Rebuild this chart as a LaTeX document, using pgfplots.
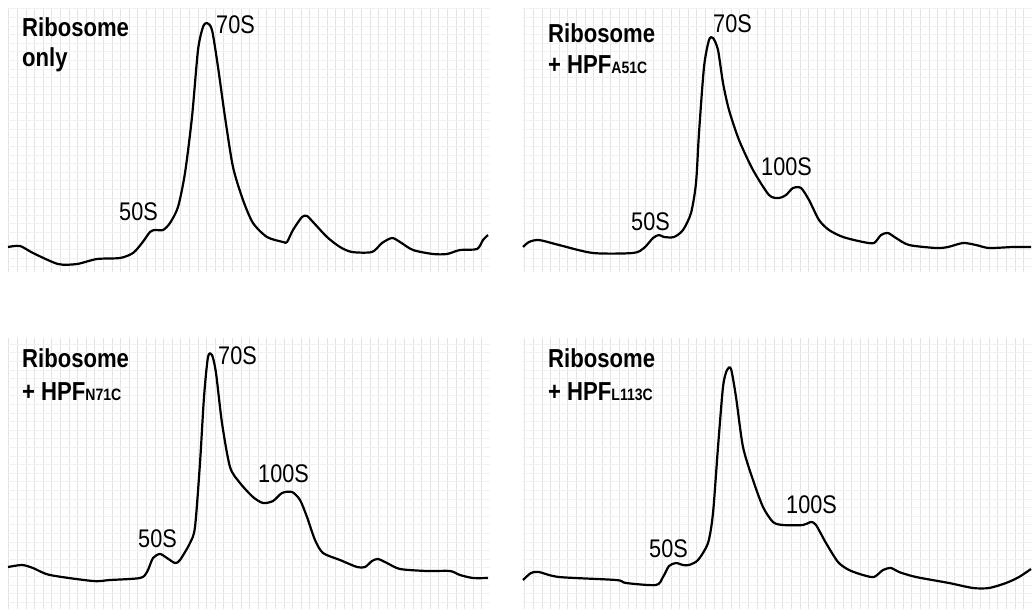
\documentclass[border=0pt]{standalone}
\usepackage{fontspec}
\setmainfont{Liberation Sans}
\newfontfamily\labfont[FakeStretch=0.85]{Liberation Sans}
\usepackage{pgfplots}
\pgfplotsset{compat=1.18}

% every panel is drawn in the pixel space of the scan: x to the right, y downwards
\pgfplotsset{
  panel/.style={
    x=1pt, y=1pt, y dir=reverse,
    anchor=north west,
    axis line style={draw=none},
    tick style={draw=none},
    xticklabels={}, yticklabels={},
    xtick distance=8.6, ytick distance=8.6,
    grid=major,
    x grid style={line width=0.5pt, black!11},
    y grid style={line width=0.4pt, black!5},
    clip=false,
  },
  trace/.style={black, line width=2.2pt, smooth, tension=0.45, no marks, line join=round},
}
\newcommand{\peak}[3]{\node[anchor=base west, inner sep=0pt,
  font=\labfont\fontsize{25.5}{25.5}\selectfont] at (axis cs:#1,#2) {#3};}
\newcommand{\ttl}[3]{\node[anchor=base west, inner sep=0pt,
  font=\labfont\bfseries\fontsize{26}{26}\selectfont] at (axis cs:#1,#2) {#3};}
\newcommand{\sub}[1]{{\fontsize{16.5}{16.5}\selectfont #1}}

\begin{document}
\begin{tikzpicture}
\useasboundingbox (0,0) rectangle (1032pt,-609pt);

% ribosome only
\begin{axis}[panel, at={(8pt,-8pt)}, xmin=8, xmax=490, ymin=8, ymax=272]
\addplot[trace] coordinates {
(8,247) (20,246) (33,253) (58,264) (77,264) (97,259) (120,258) (133,253)
(142,243) (150,232) (155,230) (163,230) (170,223) (178,207) (185,173)
(192,117) (198,50) (203,27) (207,23) (212,30) (218,67) (225,117) (233,167)
(243,200) (253,223) (267,237) (283,242) (287,242) (293,230) (302,217)
(307,216) (313,222) (327,237) (340,247) (352,252) (372,252) (382,243)
(392,238) (400,242) (413,250) (433,254) (447,254) (460,250) (477,249)
(483,240) (488,235)
};
\ttl{22}{37}{Ribosome}
\ttl{22}{67}{only}
\peak{216}{34}{70S}
\peak{119}{220}{50S}
\end{axis}

% + HPF A51C
\begin{axis}[panel, at={(522pt,-8pt)}, xmin=522, xmax=1032, ymin=8, ymax=272]
\addplot[trace] coordinates {
(523,247) (529,242) (539,240) (559,245) (593,253) (633,253) (644,248)
(653,238) (659,235) (664,237) (674,237) (683,230) (691,213) (696,183)
(699,133) (704,67) (709,40) (713,38) (718,50) (723,83) (729,110) (739,140)
(753,170) (769,195) (779,198) (786,195) (793,188) (801,188) (809,200)
(819,220) (829,230) (843,237) (863,242) (874,243) (881,235) (888,233)
(896,238) (909,245) (936,248) (948,247) (963,243) (976,245) (989,248)
(1013,247) (1031,247)
};
\ttl{548}{43}{Ribosome}
\ttl{548}{73}{+ HPF\sub{A51C}}
\peak{713}{33}{70S}
\peak{761}{175}{100S}
\peak{631}{230}{50S}
\end{axis}

% + HPF N71C
\begin{axis}[panel, at={(8pt,-338pt)}, xmin=8, xmax=490, ymin=338, ymax=609]
\addplot[trace] coordinates {
(8,567) (22,565) (33,568) (50,575) (93,581) (110,580) (140,578) (147,572)
(153,558) (160,554) (167,558) (175,563) (180,560) (190,543) (195,527)
(200,463) (204,397) (208,357) (212,355) (216,373) (222,423) (230,467)
(240,483) (253,497) (263,503) (273,501) (282,493) (292,492) (300,500)
(307,517) (315,540) (323,553) (340,560) (357,567) (365,567) (372,561)
(378,559) (387,563) (400,569) (427,571) (450,571) (460,575) (473,578)
(488,578)
};
\ttl{22}{367}{Ribosome}
\ttl{22}{400}{+ HPF\sub{N71C}}
\peak{218}{364}{70S}
\peak{258}{482}{100S}
\peak{138}{547}{50S}
\end{axis}

% + HPF L113C
\begin{axis}[panel, at={(522pt,-338pt)}, xmin=522, xmax=1032, ymin=338, ymax=609]
\addplot[trace] coordinates {
(523,580) (531,573) (539,572) (559,577) (616,580) (626,583) (656,585)
(663,577) (669,566) (676,563) (683,565) (689,565) (698,560) (708,543)
(713,513) (718,447) (723,387) (727,370) (731,369) (736,397) (743,447)
(753,480) (763,507) (773,522) (783,525) (803,525) (811,522) (816,525)
(826,543) (838,562) (849,570) (863,575) (874,577) (883,570) (891,568)
(899,572) (916,577) (949,583) (973,588) (989,588) (1006,583) (1019,577)
(1031,569)
};
\ttl{548}{367}{Ribosome}
\ttl{548}{400}{+ HPF\sub{L113C}}
\peak{786}{513}{100S}
\peak{649}{557}{50S}
\end{axis}
\end{tikzpicture}
\end{document}
